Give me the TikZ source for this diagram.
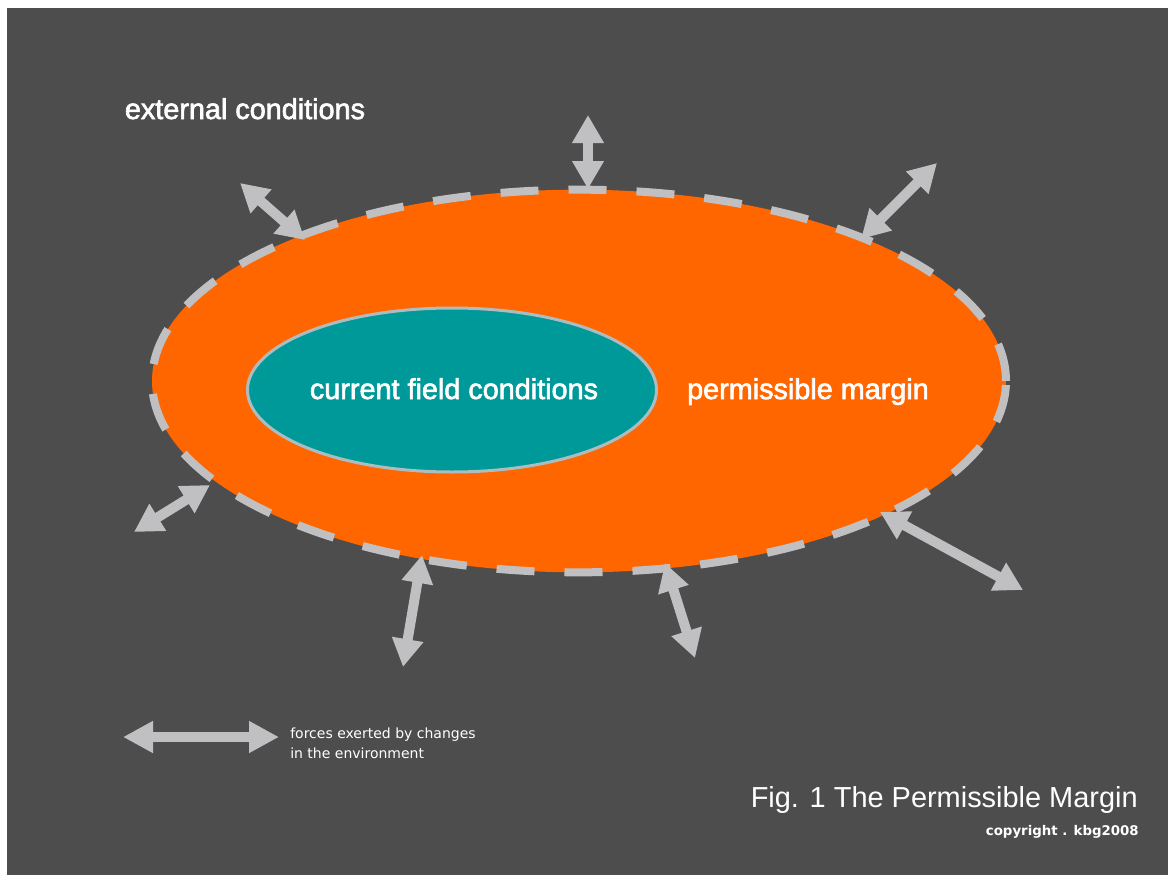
\documentclass[tikz,border=0pt]{standalone}
\usepackage{fontspec}
\setmainfont{Liberation Sans}
\newfontfamily\notefont{DejaVu Sans}
\newfontface\labelfont[FakeBold=2.2]{Liberation Sans}
\usepackage{tikz}
\usetikzlibrary{arrows.meta,shapes.geometric}
\definecolor{bggray}{RGB}{77,77,77}
\definecolor{marginorange}{RGB}{255,102,0}
\definecolor{fieldteal}{RGB}{0,153,153}
\definecolor{forcegray}{RGB}{192,192,194}

\tikzset{
  force/.style={line width=7.5pt,forcegray,
    {Triangle[width=22.5pt,length=21pt]}-{Triangle[width=22.5pt,length=21pt]}},
  biglabel/.style={text=white,inner sep=0pt,font=\labelfont\fontsize{21.6pt}{26pt}\selectfont},
}

\begin{document}
\begin{tikzpicture}[x=0.75pt,y=-0.75pt]
                \fill[white] (0,0) rectangle (1168,875);
                \fill[bggray] (7,8) rectangle (1168,875);
                \useasboundingbox (0,0) rectangle (1168,875);
                % Permissible margin
                \node[ellipse,fill=marginorange,draw=forcegray,line width=6pt,
                      dash pattern=on 28.5pt off 22.5pt,inner sep=0pt,
                      minimum width=640.5pt,minimum height=287pt] (margin) at (579,381) {};
                % Current field conditions
                \node[ellipse,fill=fieldteal,draw=forcegray!90!fieldteal,line width=2.25pt,
                      inner sep=0pt,minimum width=306.75pt,minimum height=123pt] (field) at (452,390) {};
                % Forces
                \foreach \f/\ax/\ay/\bx/\by in {top/588/115/588/189, upleft/240/183/305/240,
                    upright/937/163/861/239, left/134/532/210/485, downleft/403/667/422/555,
                    downmid/695/658/665/563, downright/1023/590/880/512}{
                    \coordinate (\f out) at (\ax,\ay);
                    \coordinate (\f in) at (\bx,\by);
                    \draw[force] (\f out) -- (\f in);
                }
                % Legend
                \coordinate (legleft) at (123,737);
                \coordinate (legright) at (279,737);
                \draw[line width=7.5pt,forcegray,
                    {Triangle[width=22.5pt,length=22.5pt]}-{Triangle[width=22.5pt,length=22.5pt]}]
                    (legleft) -- (legright);
                % Labels
                \node[biglabel,anchor=base] (fieldtext) at (454,399) {current field conditions};
                \node[biglabel,anchor=base] (margintext) at (808,399) {permissible margin};
                \node[biglabel,anchor=base] (external) at (245,119) {external conditions};
                \node[text=white,inner sep=0pt,anchor=north west,align=left,
                      font=\notefont\fontsize{10.5pt}{15pt}\selectfont] (legend) at (290,728)
                      {forces exerted by changes\\in the environment};
                \node[text=white,inner sep=0pt,anchor=base east,
                      font=\fontsize{21.7pt}{26pt}\selectfont] (fig) at (1138,807)
                      {Fig. 1 The Permissible Margin};
                \node[text=white,inner sep=0pt,anchor=base east,
                      font=\notefont\bfseries\fontsize{10pt}{12pt}\selectfont] (copy) at (1139,835)
                      {copyright . kbg2008};
            \end{tikzpicture}
\end{document}
